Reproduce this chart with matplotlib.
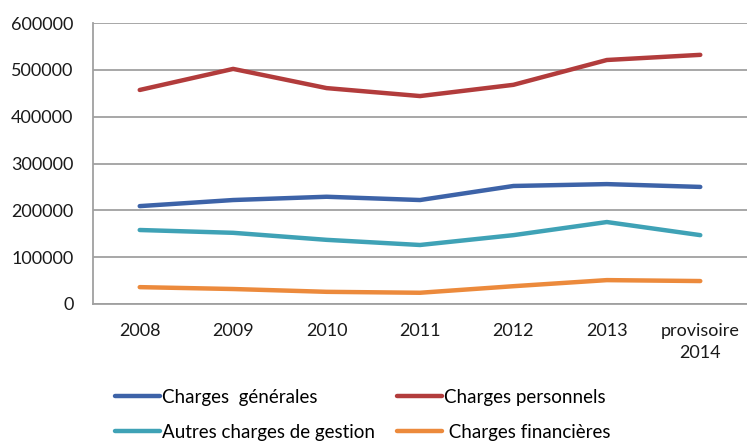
import matplotlib
matplotlib.use('Agg')
import matplotlib.pyplot as plt

# données
annees = ['2008', '2009', '2010', '2011', '2012', '2013', 'provisoire\n2014']
charges_generales = [209000, 222000, 229000, 222000, 252000, 256000, 250000]
charges_personnels = [457000, 502000, 461000, 444000, 468000, 521000, 532000]
autres_charges = [158000, 152000, 137000, 126000, 147000, 175000, 147000]
charges_financieres = [36000, 32000, 26000, 24000, 38000, 51000, 49000]

plt.rcParams['font.family'] = ['Lato', 'DejaVu Sans']

fig = plt.figure(figsize=(7.47, 4.41), dpi=100)
ax = fig.add_axes([93 / 747, 137 / 441, 654 / 747, 281 / 441])

x = range(len(annees))
l1, = ax.plot(x, charges_generales, color='#3d63a8', lw=3.2, solid_capstyle='round', label='Charges  générales')
l2, = ax.plot(x, charges_personnels, color='#b23c3c', lw=3.2, solid_capstyle='round', label='Charges personnels')
l3, = ax.plot(x, autres_charges, color='#3fa2b6', lw=3.2, solid_capstyle='round', label='Autres charges de gestion')
l4, = ax.plot(x, charges_financieres, color='#ec8a3c', lw=3.2, solid_capstyle='round', label=' Charges financières')

ax.set_xlim(-0.5, len(annees) - 0.5)
ax.set_ylim(0, 600000)
ax.set_yticks(range(0, 600001, 100000))
ax.set_xticks(list(x))
ax.set_xticklabels(annees, fontsize=13, color='#1a1a1a', linespacing=1.4)
ax.tick_params(axis='y', labelsize=13, labelcolor='#1a1a1a', length=0, pad=14)
ax.tick_params(axis='x', length=0, pad=14)
ax.grid(axis='y', color='#a0a0a0', lw=1.3)
ax.set_axisbelow(True)
for s in ['top', 'right']:
    ax.spines[s].set_visible(False)
ax.spines['left'].set_color('#a0a0a0')
ax.spines['bottom'].set_color('#a0a0a0')
ax.spines['left'].set_linewidth(1.3)
ax.spines['bottom'].set_linewidth(1.3)

fig.legend([l1, l3, l2, l4], [l1.get_label(), l3.get_label(), l2.get_label(), l4.get_label()],
           ncol=2, loc='upper left', bbox_to_anchor=(115 / 747, 1 - 389 / 441),
           frameon=False, fontsize=13.5, handlelength=2.4, handletextpad=0.1,
           columnspacing=1.2, labelspacing=0.95, borderaxespad=0, borderpad=0)

fig.savefig('out.png', dpi=100)
